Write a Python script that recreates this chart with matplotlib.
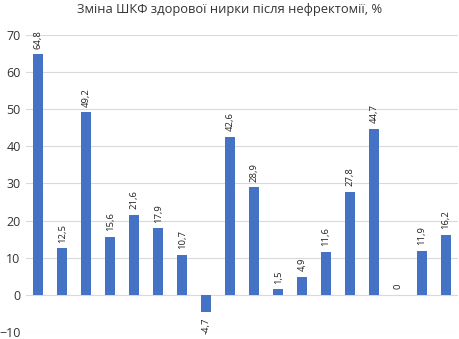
import matplotlib
matplotlib.use('Agg')
import matplotlib.pyplot as plt

values = [64.8, 12.5, 49.2, 15.6, 21.6, 17.9, 10.7, -4.7, 42.6, 28.9,
          1.5, 4.9, 11.6, 27.8, 44.7, 0, 11.9, 16.2]
labels = ['64,8', '12,5', '49,2', '15,6', '21,6', '17,9', '10,7', '-4,7', '42,6',
          '28,9', '1,5', '4,9', '11,6', '27,8', '44,7', '0', '11,9', '16,2']
title = 'Зміна ШКФ здорової нирки після нефректомії, %'

plt.rcParams['font.family'] = ['Open Sans', 'DejaVu Sans']

fig = plt.figure(figsize=(4.59, 3.39), dpi=100)
ax = fig.add_axes([0.057, 0.021, 0.941, 0.876])
x = list(range(len(values)))
ax.bar(x, values, width=0.42, color='#4472C4', zorder=3)
for xi, v, lab in zip(x, values, labels):
    if v >= 0:
        ax.annotate(lab, (xi, v), xytext=(0, 4), textcoords='offset points',
                    rotation=90, ha='center', va='bottom', fontsize=6.8, color='#222222')
    else:
        ax.annotate(lab, (xi, v), xytext=(0, -4), textcoords='offset points',
                    rotation=90, ha='center', va='top', fontsize=6.8, color='#222222')
ax.set_xlim(-0.5, len(values) - 0.5)
ax.set_ylim(-10, 70)
ax.set_yticks(range(-10, 71, 10))
ax.set_xticks([])
ax.grid(axis='y', color='#d9d9d9', linewidth=0.8, zorder=0)
for s in ax.spines.values():
    s.set_visible(False)
ax.tick_params(axis='y', length=0, labelsize=9, colors='#333333', pad=4)
fig.suptitle(title, fontsize=9.3, y=0.99, color='#333333')
fig.savefig('out.png', dpi=100)
